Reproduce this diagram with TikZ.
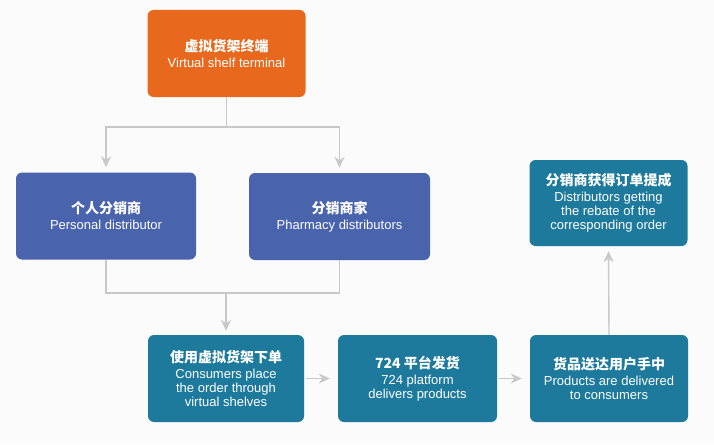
\documentclass[tikz,border=0pt]{standalone}
\usepackage{fontspec}
\setmainfont{Liberation Sans}
\newfontfamily\cjk{Noto Sans CJK SC}
\usetikzlibrary{arrows.meta,calc}
\definecolor{cOrange}{HTML}{E8691E}
\definecolor{cBlue}{HTML}{4A63AD}
\definecolor{cTeal}{HTML}{1E7A9C}
\definecolor{cLine}{HTML}{C8C8C8}
\definecolor{cBg}{HTML}{FBFBFB}
\newcommand\zh[1]{{\cjk\bfseries\fontsize{14}{14}\selectfont #1}}
\tikzset{
  box/.style={rounded corners=6pt, inner sep=0pt, align=center, text=white,
    minimum height=87pt, font=\fontsize{13}{14}\selectfont},
  orangebox/.style={box, fill=cOrange, minimum width=158pt},
  bluebox/.style={box, fill=cBlue, minimum width=180pt},
  tealbox/.style={box, fill=cTeal, minimum width=158pt},
  conn/.style={draw=cLine, line width=1.4pt},
  arr/.style={conn, -{Stealth[length=11pt,width=10pt,inset=3.5pt]}, shorten >=5pt},
}
\begin{document}
\begin{tikzpicture}[x=1pt,y=-1pt]
\fill[cBg] (0,0) rectangle (714,444);
\useasboundingbox (0,0) rectangle (714,444);

\node[orangebox] (o) at (226.5,53.5) {\zh{虚拟货架终端}\\[2pt]Virtual shelf terminal};
\node[bluebox] (p1) at (106,216) {\zh{个人分销商}\\[2pt]Personal distributor};
\node[bluebox, minimum width=181pt] (p2) at (339.5,216.5) {\zh{分销商家}\\[2pt]Pharmacy distributors};
\node[tealbox, minimum width=156pt] (t1) at (226,378.5) {\zh{使用虚拟货架下单}\\[2pt]Consumers place\\the order through\\virtual shelves};
\node[tealbox, minimum width=159pt] (t2) at (417.5,378.5) {\zh{724 平台发货}\\[2pt]724 platform\\delivers products};
\node[tealbox] (t3) at (609,378.5) {\zh{货品送达用户手中}\\[2pt]Products are delivered\\to consumers};
\node[tealbox, minimum height=86pt] (r) at (608.5,203) {\zh{分销商获得订单提成}\\[2pt]Distributors getting\\the rebate of the\\corresponding order};

\coordinate (j1) at (226.5,127);
\draw[conn] (o.south) -- (j1);
\draw[arr] (j1) -| (p1.north);
\draw[arr] (j1) -| (p2.north);
\coordinate (j2) at (226,293);
\draw[conn] (p1.south) |- (j2);
\draw[conn] (p2.south) |- (j2);
\draw[arr, shorten >=4pt] (j2) -- (t1.north);
\draw[arr, shorten <=2pt, shorten >=8pt] (t1.east) -- (t2.west);
\draw[arr, shorten <=2pt, shorten >=8pt] (t2.east) -- (t3.west);
\draw[arr] (t3.north) -- (r.south);
\end{tikzpicture}
\end{document}
